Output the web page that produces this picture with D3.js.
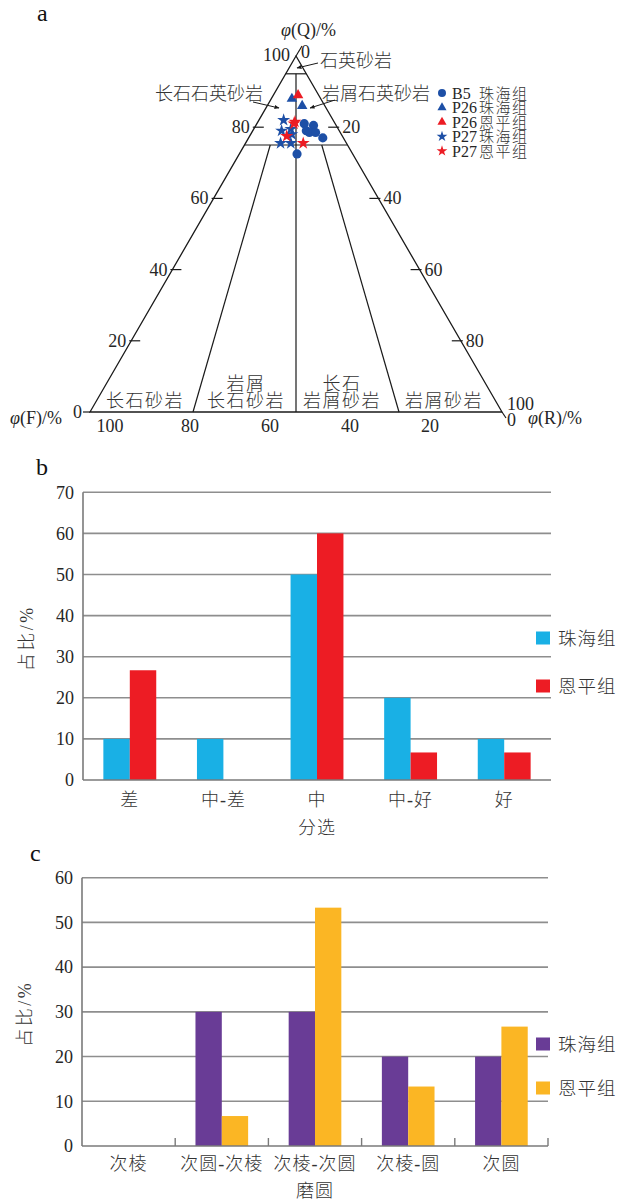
<!DOCTYPE html>
<html><head><meta charset="utf-8">
<script src="https://cdn.jsdelivr.net/npm/d3@7"></script>
<style>body{margin:0;background:#fff}svg{display:block}</style>
</head><body><svg id="fig" width="624" height="1203"></svg>
<script>
// ---- panel a: Q-F-R ternary compositions, [Q, F, R] in percent ----
const b5Zhuhai  = [[81,7.5,11.5],[80.5,5.5,14],[79,8,13],[78.5,7.5,14],[78.5,6,15.5],[77,5,18],[72.5,13.5,14]];
const p26Zhuhai = [[88,7,5],[86,5.5,8.5]];
const p26Enping = [[89,5,6]];
const p27Zhuhai = [[82,12,6],[79,14,7],[79.5,11.5,9],[78,12,10],[75.5,16,8.5],[75.5,13.5,11]];
const p27Enping = [[81,10,9],[81.5,9.5,9],[77.5,13.5,9],[75.5,10.5,14]];
const edgeTicks = [20,40,60,80];
const baseTickLabels = [100,80,60,40,20];
const legendCodes = ["B5","P26","P26","P27","P27"];
const legendNames = ["珠海组","珠海组","恩平组","珠海组","恩平组"];

// ---- panel b: sorting ----
const sortingCats   = ["差","中-差","中","中-好","好"];
const sortingZhuhai = [10,10,50,20,10];
const sortingEnping = [26.7,0,60,6.7,6.7];

// ---- panel c: roundness ----
const roundCats   = ["次棱","次圆-次棱","次棱-次圆","次棱-圆","次圆"];
const roundZhuhai = [0,30,30,20,20];
const roundEnping = [0,6.7,53.3,13.3,26.7];

const seriesNames = ["珠海组","恩平组"];

const SERIF = '"Liberation Serif","Times New Roman",serif';
const MIXED = '"Liberation Serif","Noto Sans CJK SC",serif';
const CJK = '"Noto Sans CJK SC","Noto Sans CJK JP",sans-serif';
const INK = "#262626";
const TBLUE = "#1d4fa6", TRED = "#ec1c24";

const svg = d3.select("#fig");

// ================= panel a =================
const qY = d3.scaleLinear().domain([0,100]).range([412,56]);
const bX = d3.scaleLinear().domain([0,100]).range([90,502]);
const pt = (q,f,r) => { const s=q+f+r; q=q/s*100; r=r/s*100; return [bX(r+q/2), qY(q)]; };

const ga = svg.append("g");
ga.append("text").attr("x",37).attr("y",21).attr("font-family",SERIF).attr("font-size",24).attr("fill","#111").text("a");

const line = d3.line();
const seg = (a,b,w) => ga.append("path").attr("d",line([a,b])).attr("stroke","#1a1a1a").attr("stroke-width",w||1.2).attr("fill","none");

// outline
ga.append("path").attr("d",line([pt(100,0,0),pt(0,100,0),pt(0,0,100)])+"Z")
  .attr("fill","none").attr("stroke","#1a1a1a").attr("stroke-width",1.3);
// classification boundaries
seg(pt(95,5,0),pt(95,0,5));
seg(pt(75,25,0),pt(75,0,25));
seg(pt(95,2.5,2.5),pt(0,50,50));
seg(pt(75,18.75,6.25),pt(0,75,25));
seg(pt(75,6.25,18.75),pt(0,25,75));

// edge ticks and labels
edgeTicks.forEach(t=>{
  const L = pt(t,100-t,0), R = pt(t,0,100-t);
  seg([L[0]-2,L[1]],[L[0]+9,L[1]]);
  seg([R[0]-9,R[1]],[R[0]+2,R[1]]);
  ga.append("text").attr("x",L[0]-5).attr("y",L[1]+6).attr("text-anchor","end")
    .attr("font-family",SERIF).attr("font-size",18).attr("fill",INK).text(t);
  ga.append("text").attr("x",R[0]+5).attr("y",R[1]+6)
    .attr("font-family",SERIF).attr("font-size",18).attr("fill",INK).text(100-t);
});
const apex = pt(100,0,0), vL = pt(0,100,0), vR = pt(0,0,100);
seg(apex,[apex[0]+6,apex[1]-10]);
seg([vL[0]-7,vL[1]],vL);
seg(vR,[vR[0]+4,vR[1]+6]);
const numText = (x,y,s,anchor) => ga.append("text").attr("x",x).attr("y",y).attr("text-anchor",anchor||"start")
  .attr("font-family",SERIF).attr("font-size",18).attr("fill",INK).text(s);
numText(apex[0]-6,61,"100","end");
numText(apex[0]+5,58,"0");
numText(vL[0]-8,418,"0","end");
numText(vR[0]+5,410,"100");
numText(vR[0]+5,426,"0");
const baseLabelX = d3.scaleLinear().domain([100,20]).range([110,430]);
baseTickLabels.forEach(v=>numText(baseLabelX(v),432,v,"middle"));

// axis titles
const axTitle = (x,y,letter,anchor) => {
  const t = ga.append("text").attr("x",x).attr("y",y).attr("text-anchor",anchor||"start")
    .attr("font-family",SERIF).attr("font-size",18).attr("fill",INK);
  t.append("tspan").attr("font-style","italic").text("φ");
  t.append("tspan").text("("+letter+")/%");
};
axTitle(281,36,"Q");
axTitle(10,424,"F");
axTitle(528,424,"R");

// rock-type labels (multi-line labels are single text elements with stacked tspans)
const cjk = (x,y,lines,anchor,size,ls) => {
  const t = ga.append("text").attr("text-anchor",anchor||"start")
    .attr("font-family",CJK).attr("font-weight",300).attr("font-size",size||18)
    .attr("letter-spacing",ls||0).attr("fill","#333");
  [].concat(lines).forEach((s,i,arr)=>{
    t.append("tspan").attr("x",x).attr("y",y-(arr.length-1-i)*17).text(s);
  });
};
cjk(320,67,"石英砂岩");
cjk(263,99.5,"长石石英砂岩","end");
cjk(322,99.5,"岩屑石英砂岩");
cjk(145,406.5,"长石砂岩","middle",18,1.5);
cjk(246,406.5,["岩屑","长石砂岩"],"middle",18,1.5);
cjk(342,406.5,["长石","岩屑砂岩"],"middle",18,1.5);
cjk(444,406.5,"岩屑砂岩","middle",18,1.5);

// leader arrows
svg.append("defs").append("marker").attr("id","ah").attr("viewBox","0 0 10 10")
  .attr("refX",9).attr("refY",5).attr("markerWidth",5).attr("markerHeight",5).attr("orient","auto")
  .append("path").attr("d","M0,1L10,5L0,9Z").attr("fill","#1a1a1a");
[[[318,63],[297,68]],[[253,102],[279,108]],[[335,100],[310,108]]].forEach(([a,b])=>{
  ga.append("path").attr("d",line([a,b])).attr("stroke","#1a1a1a").attr("stroke-width",1)
    .attr("fill","none").attr("marker-end","url(#ah)");
});

// samples
const groups = [
  {data:b5Zhuhai, shape:d3.symbolCircle, color:TBLUE, size:66},
  {data:p26Zhuhai, shape:d3.symbolTriangle, color:TBLUE, size:48},
  {data:p26Enping, shape:d3.symbolTriangle, color:TRED, size:48},
  {data:p27Zhuhai, shape:d3.symbolStar, color:TBLUE, size:52},
  {data:p27Enping, shape:d3.symbolStar, color:TRED, size:52}
];
groups.forEach(gr=>{
  ga.append("g").selectAll("path").data(gr.data).join("path")
    .attr("transform",d=>{const p=pt(d[0],d[1],d[2]);return `translate(${p[0]},${p[1]})`;})
    .attr("d",d3.symbol().type(gr.shape).size(gr.size)).attr("fill",gr.color);
});

// legend: tightly stacked rows, one text block
const legY = d3.scalePoint().domain(d3.range(5)).range([93,151]);
const legText = ga.append("text").attr("fill",INK);
groups.forEach((gr,i)=>{
  const y = legY(i);
  ga.append("path").attr("transform",`translate(442,${y})`)
    .attr("d",d3.symbol().type(gr.shape).size(gr.shape===d3.symbolCircle?50:36)).attr("fill",gr.color);
  legText.append("tspan").attr("x",452).attr("y",y+5.5).attr("font-family",SERIF).attr("font-size",16).text(legendCodes[i]);
  legText.append("tspan").attr("x",479).attr("y",y+5.5).attr("font-family",CJK).attr("font-weight",300)
    .attr("font-size",15).attr("letter-spacing",1.5).attr("fill","#333").text(legendNames[i]);
});

// ================= panels b and c =================
function barPanel(o){
  const g = svg.append("g");
  const x = d3.scaleBand().domain(o.cats).range([o.x0,o.x1]);
  const xs = d3.scaleBand().domain(seriesNames).range([0,x.bandwidth()]).paddingOuter(0.77);
  const y = d3.scaleLinear().domain([0,o.max]).range([o.y0,o.y1]);
  const ticks = d3.range(0,o.max+1,10);

  g.append("text").attr("x",o.letterX).attr("y",o.letterY).attr("font-family",SERIF)
    .attr("font-size",24).attr("fill","#111").text(o.letter);

  // horizontal grid
  g.append("g").selectAll("line").data(ticks.filter(d=>d>0)).join("line")
    .attr("x1",o.x0).attr("x2",o.x1).attr("y1",d=>y(d)).attr("y2",d=>y(d))
    .attr("stroke","#8e8e8e").attr("stroke-width",1.6);

  // bars
  const rows = o.cats.map((c,i)=>({c, v:[o.a[i],o.b[i]]}));
  const grp = g.append("g").selectAll("g").data(rows).join("g")
    .attr("transform",d=>`translate(${x(d.c)},0)`);
  grp.selectAll("rect").data(d=>d.v.map((v,k)=>({k,v}))).join("rect")
    .attr("x",d=>xs(seriesNames[d.k])).attr("width",xs.bandwidth())
    .attr("y",d=>y(d.v)).attr("height",d=>y(0)-y(d.v))
    .attr("fill",d=>o.colors[d.k]);

  // axis lines
  g.append("line").attr("x1",o.x0).attr("x2",o.x0).attr("y1",y(0)).attr("y2",y(o.max))
    .attr("stroke","#7a7a7a").attr("stroke-width",1.6);
  g.append("line").attr("x1",o.x0).attr("x2",o.x1).attr("y1",y(0)).attr("y2",y(0))
    .attr("stroke","#7a7a7a").attr("stroke-width",1.6);
  if(o.catTicks){
    g.append("g").selectAll("line").data(o.cats).join("line")
      .attr("x1",d=>x(d)+x.bandwidth()).attr("x2",d=>x(d)+x.bandwidth())
      .attr("y1",y(0)).attr("y2",y(0)-8).attr("stroke","#7a7a7a").attr("stroke-width",1.4);
  }

  // y axis labels
  const ya = g.append("g").attr("transform",`translate(${o.x0},0)`)
    .call(d3.axisLeft(y).tickValues(ticks).tickSize(0).tickPadding(9).tickFormat(d3.format("d")));
  ya.select(".domain").remove();
  ya.selectAll("text").attr("font-family",SERIF).attr("font-size",18).attr("fill",INK);

  // category labels
  const xa = g.append("g").attr("transform",`translate(0,${y(0)})`)
    .call(d3.axisBottom(x).tickSize(0).tickPadding(o.catPad));
  xa.select(".domain").remove();
  xa.selectAll("text").attr("font-family",MIXED).attr("font-weight",300).attr("font-size",18)
    .attr("letter-spacing",1).attr("fill","#333");

  // titles
  g.append("text").attr("x",(o.x0+o.x1)/2).attr("y",o.xTitleY).attr("text-anchor","middle")
    .attr("font-family",CJK).attr("font-weight",300).attr("font-size",18).attr("letter-spacing",1).attr("fill","#333").text(o.xTitle);
  g.append("text").attr("transform",`translate(${o.yTitleX},${(y(0)+y(o.max))/2+2}) rotate(-90)`)
    .attr("text-anchor","middle").attr("font-family",MIXED).attr("font-weight",300)
    .attr("font-size",18).attr("letter-spacing",2.5).attr("fill","#333").text("占比/%");

  // legend
  seriesNames.forEach((s,k)=>{
    const cy = o.legY[k];
    g.append("rect").attr("x",536).attr("y",cy-6.5).attr("width",14).attr("height",13).attr("fill",o.colors[k]);
    g.append("text").attr("x",558).attr("y",cy+6.5).attr("font-family",CJK).attr("font-weight",300)
      .attr("font-size",18.5).attr("letter-spacing",1).attr("fill","#333").text(s);
  });
}

barPanel({letter:"b", letterX:36, letterY:475, cats:sortingCats, a:sortingZhuhai, b:sortingEnping,
  colors:["#19b0e5","#ed1c24"], max:70, x0:83, x1:551, y0:780, y1:492.3,
  catPad:13, xTitle:"分选", xTitleY:834, yTitleX:33, legY:[638,686], catTicks:false});

barPanel({letter:"c", letterX:30, letterY:861, cats:roundCats, a:roundZhuhai, b:roundEnping,
  colors:["#693c96","#fbb624"], max:60, x0:82, x1:548, y0:1146, y1:877.7,
  catPad:11, xTitle:"磨圆", xTitleY:1196.5, yTitleX:31, legY:[1044,1088], catTicks:true});
</script>
</body></html>
